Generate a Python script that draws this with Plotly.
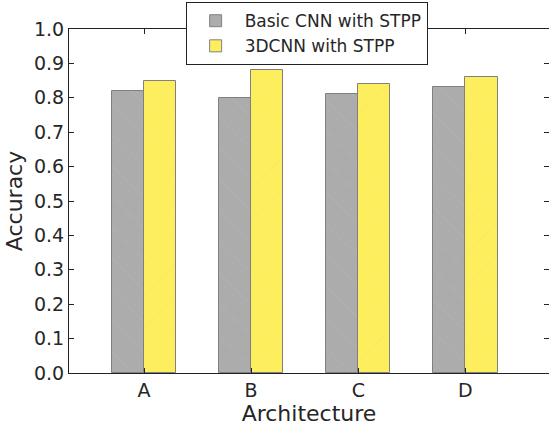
import plotly.graph_objects as go

# Accuracy per architecture for the two model variants
architectures = ["A", "B", "C", "D"]
basic_cnn_stpp = [0.82, 0.80, 0.81, 0.83]
cnn3d_stpp = [0.85, 0.88, 0.84, 0.86]
y_ticks = [0.0, 0.1, 0.2, 0.3, 0.4, 0.5, 0.6, 0.7, 0.8, 0.9, 1.0]

positions = list(range(len(architectures)))
bar_width = 0.3

fig = go.Figure()
fig.add_trace(go.Bar(
    name="Basic CNN with STPP",
    x=[p - bar_width / 2 for p in positions],
    y=basic_cnn_stpp,
    width=bar_width,
    marker=dict(
        color="#acacac",
        line=dict(color="#808080", width=1),
        pattern=dict(shape="\\", fgcolor="#bdbdbd", size=22, solidity=0.04),
    ),
))
fig.add_trace(go.Bar(
    name="3DCNN with STPP",
    x=[p + bar_width / 2 for p in positions],
    y=cnn3d_stpp,
    width=bar_width,
    marker=dict(
        color="#fdee5e",
        line=dict(color="#808080", width=1),
        pattern=dict(shape="/", fgcolor="#f0e070", size=22, solidity=0.04),
    ),
))

axis_font = dict(family="DejaVu Sans", size=19, color="#262626")
title_font = dict(family="DejaVu Sans", size=22, color="#262626")

fig.update_layout(
    width=549,
    height=427,
    margin=dict(l=69, r=0, t=29, b=54),
    paper_bgcolor="white",
    plot_bgcolor="white",
    barmode="overlay",
    bargap=0,
    font=dict(family="DejaVu Sans", color="#262626"),
    showlegend=True,
    legend=dict(
        x=0.243, y=1.078, xanchor="left", yanchor="top",
        bgcolor="white", bordercolor="#222222", borderwidth=1,
        font=dict(family="DejaVu Sans", size=17, color="#262626"),
        itemwidth=48,
        tracegroupgap=0,
    ),
    xaxis=dict(
        range=[-0.7, 3.78],
        tickvals=positions,
        ticktext=architectures,
        ticks="inside", ticklen=5, tickcolor="#222222",
        showline=True, linecolor="#222222", linewidth=1.2, mirror="ticks",
        showgrid=False, zeroline=False,
        tickfont=axis_font,
        title=dict(text="Architecture", font=title_font, standoff=2),
    ),
    yaxis=dict(
        range=[0, 1.0],
        tickvals=y_ticks,
        ticktext=[f"{v:.1f}" for v in y_ticks],
        ticks="inside", ticklen=5, tickcolor="#222222",
        showline=True, linecolor="#222222", linewidth=1.2, mirror="ticks",
        showgrid=False, zeroline=False,
        tickfont=axis_font,
        title=dict(text="Accuracy", font=title_font, standoff=5),
    ),
)

fig.write_html("out.html")
